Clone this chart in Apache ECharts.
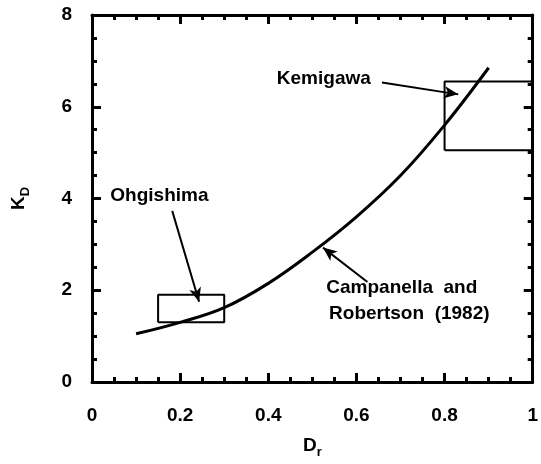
<!DOCTYPE html>
<html><head><meta charset="utf-8">
<script src="https://cdn.jsdelivr.net/npm/echarts@6/dist/echarts.min.js"></script>
<style>html,body{margin:0;padding:0;background:#fff}#c{width:541px;height:464px}</style>
</head><body><div id="c"></div>
<script>
// Campanella and Robertson (1982) curve
const curveDr = [0.1, 0.2, 0.3, 0.4, 0.5, 0.6, 0.7, 0.8, 0.9];
const curveKd = [1.05, 1.3, 1.62, 2.15, 2.83, 3.6, 4.5, 5.6, 6.85];
// Site boxes: [Dr min, Dr max, Kd min, Kd max]
const ohgishimaBox = [0.15, 0.3, 1.3, 1.9];
const kemigawaBox = [0.8, 1.0, 5.05, 6.55];
// Tick labels
const xTicks = [0, 0.2, 0.4, 0.6, 0.8, 1];
const yTicks = [0, 2, 4, 6, 8];
// Annotation texts and anchors (data coords)
const labelTexts = ['Kemigawa', 'Ohgishima', 'Campanella  and', 'Robertson  (1982)'];
const labelDr = [0.526, 0.153, 0.703, 0.72];
const labelKd = [6.6, 4.07, 2.05, 1.49];
// Arrows: [fromDr, fromKd, toDr, toKd]
const arrows = [
  [0.658, 6.53, 0.831, 6.27],
  [0.182, 3.73, 0.243, 1.75],
  [0.625, 2.18, 0.524, 2.93]
];

function boxData(b){ return [[b[0],b[2]],[b[1],b[2]],[b[1],b[3]],[b[0],b[3]],[b[0],b[2]]]; }
const FONT = 'Liberation Sans';
const chart = echarts.init(document.getElementById('c'), null, {renderer:'canvas'});
const axisCommon = {
  axisLine:{show:true, onZero:false, lineStyle:{color:'#000', width:3}},
  axisTick:{show:true, inside:true, length:9, lineStyle:{color:'#000', width:3}},
  minorTick:{show:true, splitNumber:4, length:5, lineStyle:{color:'#000', width:3}},
  splitLine:{show:false}
};
chart.setOption({
  animation:false,
  backgroundColor:'#fff',
  grid:{left:92, right:4, top:15, bottom:78, containLabel:false},
  xAxis:[
    Object.assign({type:'value', min:0, max:1, interval:0.2, position:'bottom',
      axisLabel:{show:true, margin:24, color:'#000', fontFamily:FONT, fontSize:19, fontWeight:'bold',
        formatter:v=>{const t=xTicks.find(x=>Math.abs(x-v)<1e-9); return t===undefined?'':String(t);}},
      name:'{m|D}{s|r}', nameLocation:'middle', nameGap:50,
      nameTextStyle:{rich:{m:{fontFamily:FONT,fontSize:19,fontWeight:'bold',color:'#000'},s:{fontFamily:FONT,fontSize:13,fontWeight:'bold',color:'#000',verticalAlign:'bottom',padding:[14,0,0,0]}}}
    }, axisCommon),
    Object.assign({type:'value', min:0, max:1, interval:0.2, position:'top', axisLabel:{show:false}}, axisCommon)
  ],
  yAxis:[
    Object.assign({type:'value', min:0, max:8, interval:2, position:'left',
      axisLabel:{show:true, margin:20, color:'#000', fontFamily:FONT, fontSize:19, fontWeight:'bold',
        formatter:v=>{const t=yTicks.find(x=>Math.abs(x-v)<1e-9); return t===undefined?'':String(t);}},
      name:'{m|K}{s|D}', nameLocation:'middle', nameGap:60, nameRotate:90,
      nameTextStyle:{rich:{m:{fontFamily:FONT,fontSize:19,fontWeight:'bold',color:'#000'},s:{fontFamily:FONT,fontSize:13,fontWeight:'bold',color:'#000',verticalAlign:'bottom',padding:[14,0,0,0]}}}
    }, axisCommon),
    Object.assign({type:'value', min:0, max:8, interval:2, position:'right', axisLabel:{show:false}}, axisCommon)
  ],
  series:[
    {type:'line', smooth:0.4, symbol:'none', data:curveDr.map((d,i)=>[d,curveKd[i]]),
      lineStyle:{color:'#000', width:3}, z:5},
    {type:'line', symbol:'none', data:boxData(ohgishimaBox), lineStyle:{color:'#000', width:2}, z:4},
    {type:'line', symbol:'none', data:boxData(kemigawaBox), lineStyle:{color:'#000', width:2}, z:4},
    {type:'scatter', symbolSize:0, silent:true, z:6, itemStyle:{opacity:1, color:'#000'},
      data:labelTexts.map((t,i)=>({value:[labelDr[i],labelKd[i]], name:t})),
      label:{show:true, position:'inside', formatter:p=>p.name, color:'#000', opacity:1, fontFamily:FONT, fontSize:19, fontWeight:'bold'}},
    {type:'line', data:[], symbol:'none', z:6,
      markLine:{silent:true, symbol:['none','arrow'], symbolSize:[9,14], label:{show:false},
        lineStyle:{color:'#000', width:2, type:'solid', opacity:1},
        data:arrows.map(a=>[{coord:[a[0],a[1]]},{coord:[a[2],a[3]]}])}}
  ]
});
</script></body></html>
